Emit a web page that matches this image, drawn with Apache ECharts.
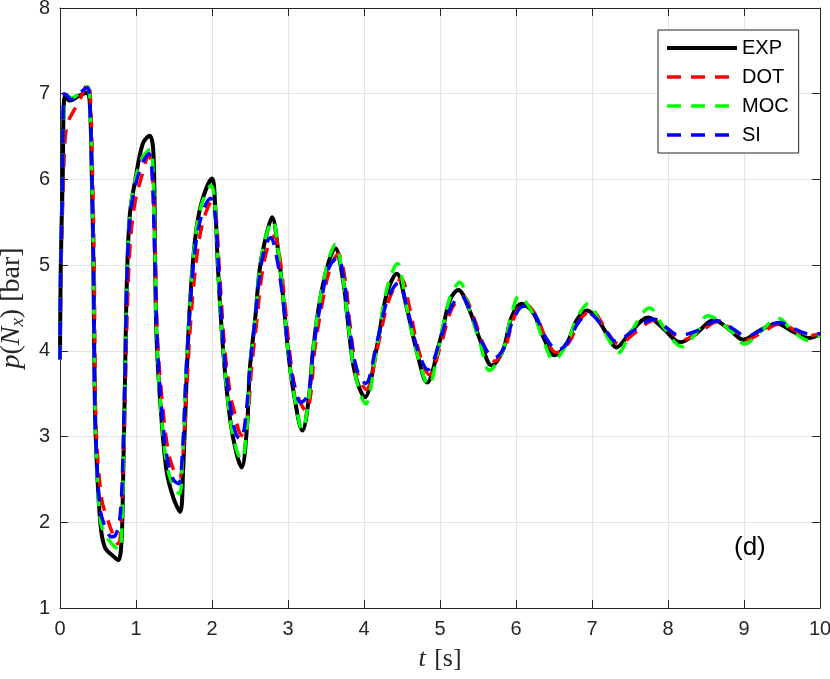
<!DOCTYPE html>
<html><head><meta charset="utf-8">
<script src="https://cdn.jsdelivr.net/npm/echarts@6/dist/echarts.min.js"></script>
<style>html,body{margin:0;padding:0;background:#fff}#c{width:830px;height:679px}</style>
</head><body><div id="c"></div><script>
const xTicks = [0,1,2,3,4,5,6,7,8,9,10];
const yTicks = [1,2,3,4,5,6,7,8];
const seriesNames = ['EXP','DOT','MOC','SI'];

const expData = [[0,3.93],[0.01,4.97],[0.035,5.99],[0.066,6.97],[0.13,6.92],[0.24,6.97],[0.35,7.01],[0.39,6.92],[0.42,6.0],[0.44,4.97],
[0.45,4.0],[0.47,3.0],[0.53,2.0],[0.59,1.71],[0.72,1.59],[0.77,1.56],[0.81,1.79],[0.83,2.49],[0.855,3.66],[0.88,4.82],
[0.92,5.6],[0.99,5.99],[1.09,6.42],[1.18,6.51],[1.23,6.30],[1.25,5.14],[1.27,4.16],[1.32,3.39],[1.40,2.61],[1.49,2.29],
[1.58,2.12],[1.62,2.61],[1.67,3.77],[1.71,4.55],[1.78,5.32],[1.86,5.72],[2.0,6.01],[2.04,5.72],[2.08,4.94],[2.15,3.97],
[2.24,3.19],[2.32,2.81],[2.39,2.64],[2.46,3.11],[2.5,3.81],[2.57,4.39],[2.63,4.97],[2.72,5.37],[2.79,5.56],[2.87,5.17],
[2.94,4.59],[3.0,4.01],[3.07,3.54],[3.19,3.07],[3.27,3.42],[3.33,4.01],[3.42,4.59],[3.53,5.02],[3.62,5.20],[3.73,4.79],
[3.78,4.40],[3.88,3.74],[4.01,3.46],[4.17,4.05],[4.30,4.67],[4.43,4.90],[4.56,4.51],[4.69,4.01],[4.83,3.63],[5.0,4.12],
[5.13,4.59],[5.24,4.71],[5.39,4.47],[5.53,4.12],[5.68,3.83],[5.83,4.01],[5.94,4.39],[6.07,4.55],[6.23,4.44],[6.36,4.16],
[6.51,3.95],[6.67,4.09],[6.80,4.36],[6.93,4.47],[7.11,4.32],[7.24,4.12],[7.32,4.04],[7.5,4.21],[7.74,4.39],[7.94,4.26],
[8.16,4.10],[8.38,4.21],[8.6,4.36],[8.82,4.24],[8.99,4.13],[9.21,4.24],[9.43,4.32],[9.65,4.22],[9.85,4.15],[10.0,4.20]];

const dotData = [[0,3.9],[0.015,5.0],[0.045,6.0],[0.07,6.5],[0.11,6.68],[0.18,6.8],[0.26,6.93],[0.37,7.12],[0.4,6.95],[0.43,6.0],
[0.45,5.0],[0.46,4.0],[0.48,3.0],[0.55,2.26],[0.62,2.05],[0.7,1.85],[0.76,1.75],[0.79,1.8],[0.82,2.3],[0.85,3.2],
[0.88,4.3],[0.92,5.2],[0.98,5.7],[1.07,6.02],[1.17,6.28],[1.21,6.15],[1.25,5.3],[1.28,4.2],[1.34,3.45],[1.42,2.85],
[1.50,2.6],[1.57,2.52],[1.62,2.8],[1.67,3.6],[1.72,4.35],[1.80,5.1],[1.88,5.5],[2.0,5.74],[2.05,5.6],[2.1,4.9],
[2.17,4.0],[2.25,3.45],[2.30,3.27],[2.36,3.05],[2.42,3.0],[2.47,3.2],[2.52,3.8],[2.59,4.35],[2.65,4.85],[2.73,5.2],
[2.82,5.34],[2.89,5.1],[2.96,4.55],[3.02,4.0],[3.1,3.55],[3.24,3.3],[3.3,3.5],[3.35,4.0],[3.45,4.55],[3.55,4.95],
[3.66,5.13],[3.76,4.78],[3.81,4.35],[3.91,3.75],[4.03,3.55],[4.18,4.05],[4.33,4.6],[4.49,4.84],[4.6,4.5],[4.72,4.0],
[4.86,3.72],[5.02,4.1],[5.16,4.5],[5.31,4.63],[5.44,4.4],[5.57,4.08],[5.72,3.88],[5.86,4.05],[5.97,4.38],[6.1,4.56],
[6.26,4.42],[6.39,4.15],[6.53,3.98],[6.7,4.1],[6.83,4.35],[6.99,4.47],[7.15,4.3],[7.28,4.12],[7.36,4.08],[7.55,4.2],
[7.83,4.36],[8.0,4.25],[8.2,4.13],[8.42,4.22],[8.65,4.34],[8.86,4.24],[9.04,4.13],[9.26,4.23],[9.48,4.32],[9.69,4.23],
[9.88,4.18],[10,4.2]];

const mocData = [[0,3.9],[0.01,5.0],[0.035,6.0],[0.06,6.95],[0.1,6.98],[0.15,6.95],[0.25,7.0],[0.36,7.08],[0.39,6.95],[0.42,6.0],
[0.44,5.0],[0.45,4.0],[0.47,3.0],[0.52,2.1],[0.57,1.9],[0.68,1.75],[0.78,1.68],[0.81,1.85],[0.83,2.5],[0.855,3.66],
[0.88,4.82],[0.92,5.6],[0.98,5.95],[1.08,6.25],[1.19,6.35],[1.22,6.2],[1.25,5.1],[1.27,4.16],[1.32,3.4],[1.40,2.7],
[1.49,2.42],[1.57,2.33],[1.61,2.7],[1.66,3.77],[1.71,4.55],[1.78,5.32],[1.86,5.7],[1.99,5.93],[2.04,5.7],[2.08,4.94],
[2.15,3.97],[2.24,3.2],[2.32,2.85],[2.39,2.73],[2.46,3.11],[2.5,3.81],[2.57,4.39],[2.63,4.97],[2.72,5.37],[2.80,5.52],
[2.87,5.17],[2.94,4.59],[3.0,4.01],[3.07,3.54],[3.19,3.08],[3.27,3.42],[3.33,4.01],[3.42,4.6],[3.53,5.05],[3.62,5.24],
[3.73,4.8],[3.78,4.4],[3.88,3.74],[4.02,3.38],[4.17,4.05],[4.30,4.72],[4.44,5.02],[4.56,4.51],[4.69,4.0],[4.85,3.6],
[5.0,4.12],[5.13,4.62],[5.26,4.80],[5.39,4.47],[5.53,4.08],[5.65,3.77],[5.83,4.01],[5.94,4.42],[6.04,4.64],[6.23,4.42],
[6.36,4.12],[6.50,3.89],[6.67,4.09],[6.80,4.38],[6.95,4.55],[7.11,4.32],[7.24,4.1],[7.35,3.98],[7.5,4.2],[7.76,4.5],
[7.94,4.28],[8.18,4.05],[8.38,4.22],[8.52,4.41],[8.82,4.24],[9.01,4.08],[9.21,4.22],[9.45,4.38],[9.65,4.22],[9.86,4.12],
[10,4.18]];

const siData = [[0,3.9],[0.01,5.0],[0.035,6.0],[0.055,7.0],[0.1,6.97],[0.15,6.93],[0.25,7.0],[0.36,7.07],[0.39,6.95],[0.42,6.0],
[0.44,5.0],[0.45,4.0],[0.47,3.0],[0.53,2.15],[0.61,1.91],[0.68,1.83],[0.73,1.85],[0.78,2.0],[0.81,2.3],[0.835,3.0],
[0.86,3.9],[0.88,4.82],[0.92,5.55],[0.99,5.92],[1.09,6.2],[1.17,6.3],[1.21,6.1],[1.25,5.0],[1.28,4.1],[1.33,3.4],
[1.41,2.75],[1.49,2.5],[1.56,2.45],[1.61,2.8],[1.66,3.77],[1.71,4.5],[1.78,5.2],[1.87,5.6],[1.98,5.78],[2.04,5.6],
[2.09,4.9],[2.16,3.97],[2.25,3.3],[2.32,3.02],[2.38,2.97],[2.44,3.2],[2.5,3.81],[2.57,4.39],[2.63,4.9],[2.70,5.22],
[2.77,5.32],[2.85,5.1],[2.94,4.55],[3.0,4.05],[3.08,3.6],[3.17,3.4],[3.27,3.5],[3.33,4.0],[3.43,4.55],[3.54,4.97],
[3.65,5.09],[3.75,4.75],[3.8,4.35],[3.9,3.8],[4.02,3.62],[4.17,4.1],[4.31,4.6],[4.45,4.79],[4.58,4.45],[4.71,4.0],
[4.84,3.78],[5.0,4.12],[5.14,4.5],[5.28,4.64],[5.42,4.42],[5.55,4.1],[5.72,3.92],[5.85,4.05],[5.96,4.36],[6.1,4.52],
[6.25,4.42],[6.38,4.17],[6.55,4.01],[6.69,4.11],[6.82,4.33],[6.97,4.43],[7.13,4.3],[7.26,4.14],[7.32,4.11],[7.52,4.22],
[7.82,4.37],[7.98,4.27],[8.15,4.18],[8.4,4.24],[8.65,4.35],[8.85,4.26],[9.03,4.17],[9.25,4.25],[9.47,4.33],[9.68,4.25],
[9.85,4.2],[10,4.2]];

const AX = '#262626';
const chart = echarts.init(document.getElementById('c'), null, {renderer: 'canvas'});
const mkX = (pos, show) => ({
  type: 'value', position: pos, min: xTicks[0], max: xTicks[xTicks.length-1], interval: 1,
  axisLine: {show: true, onZero: false, lineStyle: {color: AX, width: 1}},
  axisTick: {show: true, inside: true, length: 8, lineStyle: {color: AX}},
  axisLabel: {show: show, color: AX, fontSize: 20, fontFamily: 'Liberation Sans', margin: 11},
  splitLine: {show: show, lineStyle: {color: '#e3e3e3', width: 1}}
});
const mkY = (pos, show) => ({
  type: 'value', position: pos, min: yTicks[0], max: yTicks[yTicks.length-1], interval: 1,
  axisLine: {show: true, onZero: false, lineStyle: {color: AX, width: 1}},
  axisTick: {show: true, inside: true, length: 8, lineStyle: {color: AX}},
  axisLabel: {show: show, color: AX, fontSize: 20, fontFamily: 'Liberation Sans', margin: 10},
  splitLine: {show: show, lineStyle: {color: '#e3e3e3', width: 1}}
});
const xMain = Object.assign(mkX('bottom', true), {
  name: '{i|t}{r| [s]}', nameLocation: 'middle', nameGap: 38,
  nameTextStyle: {rich: {
    i: {fontFamily: 'Liberation Serif', fontStyle: 'italic', fontSize: 26, color: AX, padding: [0, 2, 0, 0]},
    r: {fontFamily: 'Liberation Serif', fontSize: 26, color: AX}}}
});
const yMain = Object.assign(mkY('left', true), {
  name: '{i|p}{r|(}{i|N}{s|x}{r|) [bar]}', nameLocation: 'middle', nameGap: 32, nameRotate: 90,
  nameTextStyle: {rich: {
    i: {fontFamily: 'Liberation Serif', fontStyle: 'italic', fontSize: 28, color: AX},
    r: {fontFamily: 'Liberation Serif', fontSize: 28, color: AX},
    s: {fontFamily: 'Liberation Serif', fontStyle: 'italic', fontSize: 19, color: AX, padding: [14, 0, 0, 0]}}}
});
const mk = (name, data, color, width, type) => ({
  name, type: 'line', data, xAxisIndex: 0, yAxisIndex: 0, symbol: 'none', showSymbol: false,
  smooth: 0.35, animation: false,
  lineStyle: {color, width, type, cap: 'butt', join: 'round'}, itemStyle: {color}
});
chart.setOption({
  animation: false,
  backgroundColor: '#fff',
  grid: {left: 60, right: 10, top: 8, bottom: 71, containLabel: false, outerBoundsMode: 'none'},
  xAxis: [xMain, mkX('top', false)],
  yAxis: [yMain, mkY('right', false)],
  legend: {
    data: [
      {name: seriesNames[0], lineStyle: {width: 4}},
      {name: seriesNames[1], lineStyle: {width: 3.5}},
      {name: seriesNames[2], lineStyle: {width: 3.5}},
      {name: seriesNames[3], lineStyle: {width: 3.5}}
    ],
    orient: 'vertical', left: 658, top: 30,
    itemWidth: 70, itemHeight: 20, itemGap: 9, padding: [8, 10, 8, 7],
    borderColor: AX, borderWidth: 1, backgroundColor: '#fff', borderRadius: 0,
    itemStyle: {color: 'rgba(0,0,0,0)', borderWidth: 0, opacity: 0},
    textStyle: {fontSize: 20, color: '#000', fontFamily: 'Liberation Sans'}
  },
  graphic: [{type: 'text', left: 734, top: 535, z: 100, style: {text: '(d)', fontSize: 26, fontFamily: 'Liberation Sans', fill: '#000'}}],
  series: [
    mk(seriesNames[0], expData, '#000000', 4, 'solid'),
    mk(seriesNames[1], dotData, '#ff0000', 3.5, [14, 10]),
    mk(seriesNames[2], mocData, '#00ff00', 3.5, [14, 10]),
    mk(seriesNames[3], siData, '#0000ff', 3.5, [14, 10])
  ]
});
</script></body></html>
